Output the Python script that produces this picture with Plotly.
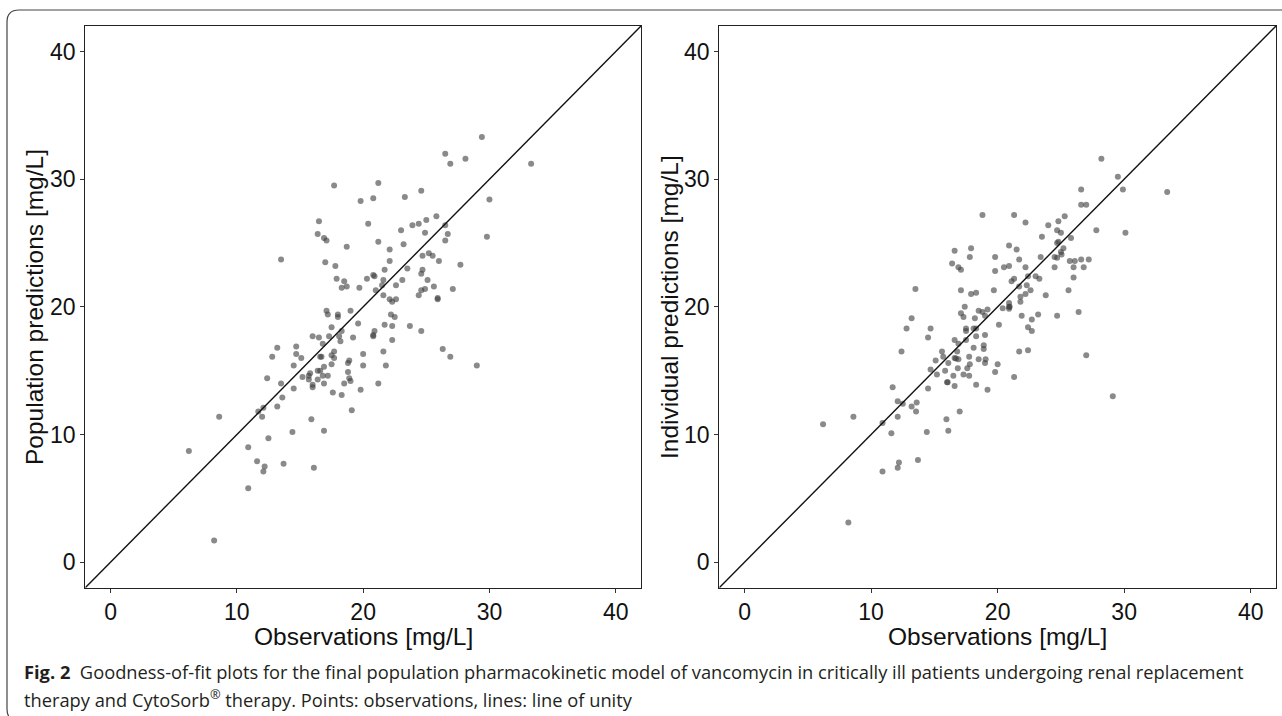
import plotly.graph_objects as go

# ---------------- data ----------------
obs_pop = [29.4, 26.5, 26.9, 28.1, 33.3, 17.7, 21.2, 19.8, 20.8, 23.3, 24.6, 30.0, 16.5, 20.4, 16.4, 16.9,
           17.1, 23.0, 23.9, 24.4, 25.0, 25.8, 26.5, 24.9, 26.7, 26.5, 29.8, 18.7, 21.2, 22.1, 23.2, 13.5,
           17.0, 17.8, 22.1, 24.7, 25.2, 25.5, 26.0, 27.7, 21.7, 23.5, 24.7, 24.6, 20.8, 20.9, 17.9, 18.5,
           20.3, 21.6, 23.1, 25.1, 18.3, 18.7, 19.7, 21.5, 22.6, 21.0, 25.6, 24.9, 24.6, 27.1, 21.6, 24.4,
           22.1, 22.3, 22.6, 25.9, 25.9, 17.1, 17.2, 18.0, 18.0, 19.0, 22.2, 22.5, 17.5, 18.3, 19.6, 21.7,
           22.3, 23.7, 24.6, 20.9, 20.8, 20.8, 16.0, 16.5, 17.3, 18.1, 19.2, 22.3, 18.2, 16.8, 13.2, 14.7,
           17.7, 17.5, 17.7, 16.6, 16.7, 18.9, 18.8, 20.0, 21.6, 26.3, 26.9, 29.0, 12.8, 14.7, 15.1, 14.5,
           17.5, 20.0, 21.8, 12.4, 13.5, 14.5, 15.2, 15.7, 15.8, 15.7, 16.4, 16.6, 16.9, 16.8, 17.2, 16.4,
           16.9, 16.0, 16.0, 17.6, 18.3, 18.5, 18.8, 18.9, 19.0, 19.8, 21.2, 13.6, 13.2, 12.1, 11.7, 12.0,
           8.6, 15.9, 19.1, 14.4, 16.9, 12.5, 10.9, 6.2, 11.6, 12.2, 12.1, 13.7, 16.1, 10.9, 8.2]
pred_pop = [33.3, 32.0, 31.2, 31.6, 31.2, 29.5, 29.7, 28.3, 28.5, 28.6, 29.1, 28.4, 26.7, 26.5, 25.7, 25.4,
            25.2, 26.0, 26.4, 26.5, 26.8, 27.1, 26.4, 25.8, 25.7, 25.2, 25.5, 24.7, 25.1, 24.5, 24.9, 23.7,
            23.5, 23.2, 23.6, 24.0, 24.2, 24.0, 23.6, 23.3, 22.9, 23.0, 22.9, 22.6, 22.5, 22.4, 22.2, 22.0,
            22.2, 22.1, 22.1, 22.1, 21.5, 21.6, 21.5, 21.7, 21.7, 21.3, 21.6, 21.4, 21.3, 21.4, 20.9, 20.9,
            20.6, 20.4, 20.6, 20.7, 20.6, 19.7, 19.4, 19.4, 19.2, 19.7, 19.4, 19.2, 18.4, 18.1, 18.7, 18.6,
            18.5, 18.5, 18.1, 18.1, 17.8, 17.7, 17.7, 17.6, 17.7, 17.7, 17.6, 17.4, 17.3, 17.1, 16.8, 16.9,
            16.5, 16.2, 16.0, 16.1, 16.1, 15.8, 15.6, 16.3, 16.5, 16.7, 16.1, 15.4, 16.1, 16.3, 16.0, 15.4,
            15.5, 15.4, 15.4, 14.4, 14.0, 13.6, 14.5, 14.6, 14.8, 14.3, 15.0, 15.0, 15.3, 14.6, 14.6, 14.3,
            14.0, 13.9, 13.7, 13.3, 13.1, 14.0, 14.9, 14.4, 14.2, 13.5, 14.0, 12.9, 12.2, 12.1, 11.8, 11.4,
            11.4, 11.2, 11.9, 10.2, 10.3, 9.7, 9.0, 8.7, 7.9, 7.5, 7.1, 7.7, 7.4, 5.8, 1.7]

obs_ind = [28.2, 29.5, 26.6, 29.9, 33.4, 26.6, 27.0, 18.8, 21.3, 22.2, 24.0, 24.8, 25.3, 24.7, 25.0, 30.1,
           27.8, 23.5, 25.8, 24.7, 24.8, 25.2, 25.0, 25.05, 24.5, 24.7, 23.4, 16.6, 17.9, 20.9, 21.5, 17.8,
           19.8, 16.4, 16.9, 17.1, 19.8, 20.5, 20.9, 21.7, 22.2, 24.5, 25.7, 26.1, 26.6, 27.2, 26.0, 26.8,
           26.0, 25.6, 26.4, 13.5, 17.1, 17.9, 18.3, 19.7, 21.1, 21.3, 22.4, 23.0, 23.3, 21.7, 22.3, 22.6,
           22.2, 21.8, 21.8, 23.8, 20.9, 20.9, 20.95, 20.9, 20.4, 17.4, 17.1, 17.3, 18.2, 18.5, 18.8, 19.0,
           19.2, 21.9, 22.7, 23.2, 24.7, 20.1, 22.4, 22.7, 13.2, 12.8, 14.7, 14.5, 17.5, 17.5, 18.1, 18.3,
           19.0, 18.3, 16.6, 17.5, 16.9, 18.1, 18.9, 18.9,
           12.4, 15.6, 15.7, 16.8, 21.7, 22.4, 27.0, 15.1, 16.1, 16.6, 16.7, 16.9, 17.75, 17.8, 17.6, 18.5,
           19.0, 19.05, 20.0, 14.7, 15.2, 15.85, 16.85, 16.5, 17.3, 17.75, 19.8, 21.3, 16.0, 16.05, 16.6, 18.3,
           19.2, 14.5, 11.7, 29.1, 12.1, 12.5, 13.2, 13.6, 13.55, 12.1, 8.6, 6.2, 10.9, 11.6, 17.0, 15.95,
           16.1, 14.4, 13.7, 12.2, 12.1, 10.9, 8.2]
pred_ind = [31.6, 30.2, 29.2, 29.2, 29.0, 28.0, 28.0, 27.2, 27.2, 26.6, 26.4, 26.7, 27.1, 26.0, 25.8, 25.8,
            26.0, 25.5, 25.4, 25.0, 25.1, 24.6, 24.3, 24.1, 23.9, 23.85, 23.9, 24.4, 24.6, 24.8, 24.5, 23.9,
            23.9, 23.4, 23.1, 22.9, 22.8, 23.1, 23.2, 23.7, 23.1, 23.1, 23.6, 23.6, 23.7, 23.7, 23.1, 23.1,
            22.3, 21.3, 19.6, 21.4, 21.3, 21.0, 21.1, 21.3, 22.0, 22.2, 22.4, 22.4, 22.2, 21.6, 21.7, 21.3,
            21.0, 20.8, 20.4, 20.9, 20.3, 20.0, 20.0, 19.85, 19.9, 20.0, 19.5, 19.2, 19.1, 19.7, 19.6, 19.3,
            19.8, 19.3, 19.0, 19.4, 19.3, 18.6, 18.4, 18.1, 19.1, 18.3, 18.3, 17.6, 18.3, 18.1, 18.3, 18.3,
            17.8, 17.7, 17.4, 17.4, 17.1, 16.8, 17.0, 16.7,
            16.5, 16.5, 16.1, 16.5, 16.5, 16.6, 16.2, 15.8, 15.6, 16.0, 15.95, 15.9, 16.1, 15.5, 15.2, 15.9,
            15.6, 15.9, 15.5, 15.1, 14.7, 15.0, 15.2, 14.6, 14.7, 14.6, 14.9, 14.5, 14.1, 14.1, 13.8, 13.9,
            13.5, 13.6, 13.7, 13.0, 12.6, 12.4, 12.2, 12.5, 11.8, 11.4, 11.4, 10.8, 10.9, 10.1, 11.8, 11.2,
            10.3, 10.2, 8.0, 7.8, 7.4, 7.1, 3.1]

axis_range = [-2, 42]
tick_vals = [0, 10, 20, 30, 40]
unity = [-2, 42]          # line of unity spans the full axis range
x_title = "Observations [mg/L]"
y_titles = ["Population predictions [mg/L]", "Individual predictions [mg/L]"]
caption_line1 = ("<b>Fig. 2</b>\u00a0\u00a0Goodness-of-fit plots for the final population pharmacokinetic "
                 "model of vancomycin in critically ill patients undergoing renal replacement")
caption_line2 = ("therapy and CytoSorb<sup>®</sup> therapy. Points: observations, lines: line of unity")

# ---------------- layout geometry ----------------
W, H = 1282, 716
left_dom = [85.3 / W, 641.0 / W]
right_dom = [719.3 / W, 1276.0 / W]
y_dom = [1 - 587.7 / H, 1 - 26.0 / H]

AX_FONT = "Liberation Sans, Arial, Helvetica, sans-serif"
CAP_FONT = "Open Sans, Noto Sans, sans-serif"

point_style = dict(size=6, color="rgba(60,60,60,0.6)", line=dict(width=0))
line_style = dict(color="#111111", width=1.4)

fig = go.Figure()
fig.add_trace(go.Scatter(x=obs_pop, y=pred_pop, mode="markers", marker=point_style,
                         xaxis="x", yaxis="y", name="Population"))
fig.add_trace(go.Scatter(x=unity, y=unity, mode="lines", line=line_style,
                         xaxis="x", yaxis="y", name="unity"))
fig.add_trace(go.Scatter(x=obs_ind, y=pred_ind, mode="markers", marker=point_style,
                         xaxis="x2", yaxis="y2", name="Individual"))
fig.add_trace(go.Scatter(x=unity, y=unity, mode="lines", line=line_style,
                         xaxis="x2", yaxis="y2", name="unity2"))


def axis(domain, anchor):
    return dict(domain=domain, anchor=anchor, range=axis_range, tickvals=tick_vals,
                ticks="outside", ticklen=4, tickwidth=1, tickcolor="#333333",
                showline=True, linecolor="#222222", linewidth=1.3, mirror=True,
                showgrid=False, zeroline=False, fixedrange=True,
                tickfont=dict(family=AX_FONT, size=23, color="#111111"))


annotations = []
for dom, ytitle, yx in [(left_dom, y_titles[0], 34), (right_dom, y_titles[1], 669)]:
    annotations.append(dict(text=x_title, x=(dom[0] + dom[1]) / 2, y=1 - 636 / H,
                            xref="paper", yref="paper", xanchor="center", yanchor="middle",
                            showarrow=False, font=dict(family=AX_FONT, size=24.5, color="#111111")))
    annotations.append(dict(text=ytitle, x=yx / W, y=1 - 307 / H, textangle=-90,
                            xref="paper", yref="paper", xanchor="center", yanchor="middle",
                            showarrow=False, font=dict(family=AX_FONT, size=24.5, color="#111111")))

annotations.append(dict(text=caption_line1, x=22 / W, y=1 - 671 / H, xref="paper", yref="paper",
                        xanchor="left", yanchor="middle", showarrow=False, align="left",
                        font=dict(family=CAP_FONT, size=18.3, color="#231f20")))
annotations.append(dict(text=caption_line2, x=22 / W, y=1 - 698 / H, xref="paper", yref="paper",
                        xanchor="left", yanchor="middle", showarrow=False, align="left",
                        font=dict(family=CAP_FONT, size=18.3, color="#231f20")))

# rounded outer frame (top-left corner rounded, frame runs off right/bottom edges)
fx = 7 / W
ft = 1 - 10 / H
rx, ry = 12 / W, 12 / H
fb = 1 - 721 / H
frame_path = (f"M {fx + rx},{fb} Q {fx},{fb} {fx},{fb + ry} "
              f"L {fx},{ft - ry} Q {fx},{ft} {fx + rx},{ft} L 1.02,{ft}")

fig.update_layout(
    width=W, height=H,
    margin=dict(l=0, r=0, t=0, b=0),
    paper_bgcolor="white", plot_bgcolor="white",
    showlegend=False,
    xaxis=axis(left_dom, "y"),
    yaxis=axis(y_dom, "x"),
    xaxis2=axis(right_dom, "y2"),
    yaxis2=axis(y_dom, "x2"),
    annotations=annotations,
    shapes=[dict(type="path", path=frame_path, xref="paper", yref="paper",
                 line=dict(color="#444444", width=1.2), layer="above")],
)

fig.write_html("out.html")
